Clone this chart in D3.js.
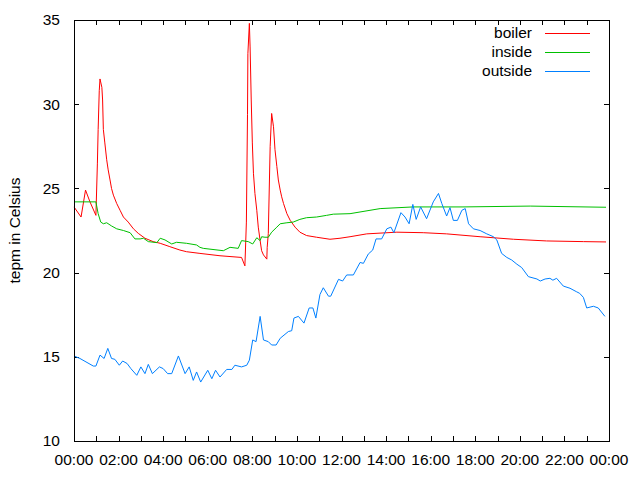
<!DOCTYPE html>
<html>
<head>
<meta charset="utf-8">
<script src="https://cdn.jsdelivr.net/npm/d3@7"></script>
<style>
  body { margin: 0; background: #fff; }
  text { font-family: "Liberation Sans", Arial, sans-serif; font-size: 15.5px; fill: #000; }
</style>
</head>
<body>
<div id="chart"></div>
<script>
var svgWidth = 640;
var svgHeight = 480;

var margin = { top: 20, right: 31, bottom: 39, left: 74 };
var width = svgWidth - margin.left - margin.right;
var height = svgHeight - margin.top - margin.bottom;

// data, times in HH:MM
var boilerTimes = ["0:00","0:19","0:31","0:43","0:59","1:03","1:05","1:08","1:10","1:15","1:17","1:19","1:23","1:28","1:32","1:37","1:41","1:46","1:55","2:04","2:13","2:26","2:40","2:53","3:11","3:33","3:52","4:18","4:45","5:03","5:39","6:33","7:31","7:40","7:44","7:47","7:48","7:52","7:54","7:57","8:00","8:03","8:07","8:12","8:16","8:21","8:25","8:30","8:39","8:40","8:43","8:48","8:52","8:57","9:01","9:06","9:10","9:15","9:19","9:24","9:33","9:42","9:55","10:08","10:26","10:53","11:29","11:56","12:23","13:08","14:29","15:40","16:43","18:13","19:43","21:12","22:51","23:52"];
var boilerValues = [23.9,23.3,24.9,24.2,23.4,26.5,28.5,30.8,31.5,31.0,30.25,28.5,27.7,26.7,26.1,25.5,25.0,24.6,24.1,23.7,23.3,23.0,22.6,22.33,22.04,21.84,21.74,21.54,21.34,21.24,21.14,21.0,20.9,20.4,23.0,29.4,33.0,34.8,33.4,30.25,27.7,25.9,24.7,23.7,22.7,21.9,21.3,21.05,20.8,21.5,22.33,27.5,29.45,28.66,27.3,26.3,25.5,24.9,24.5,24.1,23.5,23.1,22.7,22.4,22.2,22.1,21.98,22.04,22.13,22.3,22.4,22.37,22.3,22.13,21.98,21.88,21.84,21.82];

var insideTimes = ["0:00","0:43","0:59","1:05","1:12","1:19","1:28","1:41","1:55","2:13","2:31","2:44","2:58","3:07","3:20","3:43","3:52","4:05","4:23","4:36","5:03","5:30","5:39","5:48","6:42","7:00","7:22","7:31","7:49","8:01","8:12","8:21","8:25","8:34","8:43","8:52","9:06","9:15","9:33","9:50","10:08","10:26","10:53","11:20","11:38","12:23","13:44","15:13","17:27","20:28","23:52"];
var insideValues = [24.2,24.2,24.2,23.5,23.0,22.9,22.96,22.77,22.6,22.5,22.37,22.0,22.0,22.04,21.84,21.78,22.04,21.94,21.7,21.8,21.74,21.64,21.5,21.44,21.3,21.5,21.44,21.9,21.84,21.7,22.07,21.9,22.13,22.1,22.1,22.4,22.7,22.9,22.96,23.0,23.16,23.26,23.3,23.4,23.47,23.5,23.8,23.9,23.9,23.95,23.88];

var outsideTimes = ["0:00","0:16","0:52","0:59","1:10","1:21","1:31","1:41","1:50","2:02","2:11","2:23","2:33","2:49","3:00","3:11","3:20","3:31","3:50","4:00","4:12","4:23","4:41","4:59","5:10","5:21","5:30","5:41","6:00","6:11","6:21","6:33","6:51","7:05","7:13","7:31","7:45","7:52","8:01","8:10","8:21","8:30","8:43","8:52","9:04","9:15","9:37","9:46","9:52","10:04","10:19","10:33","10:43","10:51","11:02","11:11","11:25","11:31","11:52","12:03","12:14","12:32","12:50","12:59","13:12","13:24","13:33","13:48","14:02","14:13","14:21","14:40","14:51","15:02","15:12","15:21","15:33","15:49","16:07","16:21","16:30","16:43","16:52","17:01","17:12","17:24","17:33","17:42","17:55","18:13","18:31","18:49","18:58","19:11","19:25","19:38","19:52","20:05","20:23","20:46","20:55","21:08","21:21","21:29","21:39","21:57","22:15","22:32","22:41","22:51","23:00","23:18","23:31","23:49"];
var outsideValues = [15.05,14.9,14.45,14.45,15.1,14.9,15.5,14.9,14.85,14.5,14.75,14.6,14.3,13.9,14.4,14.0,14.55,14.0,14.4,14.3,14.0,14.0,15.05,14.0,14.4,13.6,14.1,13.5,14.2,13.7,14.2,13.8,14.25,14.25,14.5,14.4,14.5,14.8,16.0,15.9,17.4,16.0,15.9,15.7,15.7,16.1,16.5,16.55,17.3,17.4,17.0,17.9,17.9,17.3,18.7,19.1,18.6,18.6,19.6,19.5,19.86,19.86,20.6,20.55,21.1,21.34,22.0,22.0,22.6,22.7,22.37,23.56,23.3,22.9,24.05,23.16,23.9,23.2,24.2,24.7,24.1,23.36,23.86,23.1,23.1,23.7,23.8,22.9,22.6,22.5,22.3,22.13,21.94,21.14,20.9,20.75,20.5,20.3,19.76,19.62,19.5,19.62,19.66,19.55,19.66,19.2,19.07,18.87,18.77,18.53,17.9,18.0,17.9,17.4];

var seriesNames = ["boiler", "inside", "outside"];
var seriesColors = ["#ff0000", "#00c000", "#0080ff"];
var yTicks = [10, 15, 20, 25, 30, 35];
var yLabel = "tepm in Celsius";

var parseTime = d3.utcParse("%Y-%m-%d %H:%M");
function toDate(t) { return parseTime("2000-01-01 " + t); }

function makeSeries(times, values) {
  return times.map(function(t, i) { return { date: toDate(t), value: values[i] }; });
}
var allSeries = [
  makeSeries(boilerTimes, boilerValues),
  makeSeries(insideTimes, insideValues),
  makeSeries(outsideTimes, outsideValues)
];

var svg = d3.select("#chart").append("svg")
  .attr("width", svgWidth)
  .attr("height", svgHeight);

var chartGroup = svg.append("g")
  .attr("transform", `translate(${margin.left}, ${margin.top})`);

var xScale = d3.scaleUtc()
  .domain([toDate("00:00"), d3.utcDay.offset(toDate("00:00"), 1)])
  .range([0, width]);

var yScale = d3.scaleLinear()
  .domain([10, 35])
  .range([height, 0]);

var hourTicks = xScale.ticks(d3.utcHour.every(1));
var fmt = d3.utcFormat("%H:%M");
var tickLen = 5;

// x tick marks, inward, bottom and top
chartGroup.selectAll(".xtickB").data(hourTicks).enter().append("line")
  .attr("x1", d => Math.round(xScale(d)) + 0.5).attr("x2", d => Math.round(xScale(d)) + 0.5)
  .attr("y1", height).attr("y2", height - tickLen)
  .attr("stroke", "#000");
chartGroup.selectAll(".xtickT").data(hourTicks).enter().append("line")
  .attr("x1", d => Math.round(xScale(d)) + 0.5).attr("x2", d => Math.round(xScale(d)) + 0.5)
  .attr("y1", 0).attr("y2", tickLen)
  .attr("stroke", "#000");

// x labels every 2 hours
chartGroup.selectAll(".xlab").data(hourTicks.filter(d => d.getUTCHours() % 2 === 0)).enter().append("text")
  .attr("x", d => xScale(d))
  .attr("y", height + 24)
  .attr("text-anchor", "middle")
  .text(d => fmt(d));

// y ticks left and right
chartGroup.selectAll(".ytickL").data(yTicks).enter().append("line")
  .attr("x1", 0).attr("x2", tickLen)
  .attr("y1", d => Math.round(yScale(d)) + 0.5).attr("y2", d => Math.round(yScale(d)) + 0.5)
  .attr("stroke", "#000");
chartGroup.selectAll(".ytickR").data(yTicks).enter().append("line")
  .attr("x1", width).attr("x2", width - tickLen)
  .attr("y1", d => Math.round(yScale(d)) + 0.5).attr("y2", d => Math.round(yScale(d)) + 0.5)
  .attr("stroke", "#000");

chartGroup.selectAll(".ylab").data(yTicks).enter().append("text")
  .attr("x", -14)
  .attr("y", d => yScale(d))
  .attr("dy", "0.35em")
  .attr("text-anchor", "end")
  .text(d => d);

// y axis title
svg.append("text")
  .attr("transform", `translate(20, ${margin.top + height / 2}) rotate(-90)`)
  .attr("text-anchor", "middle")
  .text(yLabel);

// lines
var line = d3.line()
  .x(d => xScale(d.date))
  .y(d => yScale(d.value));

allSeries.forEach(function(s, i) {
  chartGroup.append("path")
    .datum(s)
    .attr("fill", "none")
    .attr("stroke", seriesColors[i])
    .attr("stroke-width", 1)
    .attr("d", line);
});

// frame
chartGroup.append("rect")
  .attr("x", 0.5).attr("y", 0.5)
  .attr("width", width).attr("height", height)
  .attr("fill", "none")
  .attr("stroke", "#000");

// legend
var legend = svg.append("g");
seriesNames.forEach(function(name, i) {
  var ly = 33 + i * 19;
  legend.append("text")
    .attr("x", 532)
    .attr("y", ly)
    .attr("dy", "0.35em")
    .attr("text-anchor", "end")
    .text(name);
  legend.append("line")
    .attr("x1", 545).attr("x2", 590)
    .attr("y1", ly + 0.5).attr("y2", ly + 0.5)
    .attr("stroke", seriesColors[i]);
});
</script>
</body>
</html>
